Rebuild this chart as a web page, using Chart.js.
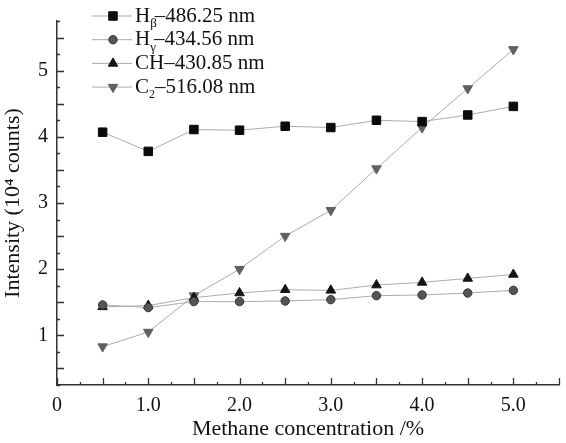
<!DOCTYPE html>
<html>
<head>
<meta charset="utf-8">
<script src="https://cdn.jsdelivr.net/npm/chart.js@4.4.1/dist/chart.umd.min.js"></script>
<style>
  html, body { margin: 0; padding: 0; background: #fff; }
  #wrap { width: 566px; height: 443px; }
</style>
</head>
<body>
<div id="wrap"><canvas id="chart" width="566" height="443"></canvas></div>
<script>
/* --------------- Data --------------------- */
const concentration = [0.5, 1.0, 1.5, 2.0, 2.5, 3.0, 3.5, 4.0, 4.5, 5.0];
const hBeta  = [4.07, 3.78, 4.11, 4.10, 4.16, 4.14, 4.25, 4.23, 4.33, 4.46];
const hGamma = [1.46, 1.42, 1.51, 1.51, 1.52, 1.54, 1.60, 1.61, 1.64, 1.68];
const ch     = [1.43, 1.45, 1.57, 1.64, 1.69, 1.68, 1.76, 1.80, 1.86, 1.92];
const c2     = [0.83, 1.05, 1.60, 2.00, 2.50, 2.89, 3.52, 4.14, 4.73, 5.32];
/* legend names: base, subscript, rest */
const seriesNames = [
  ["H", "β", "–486.25 nm"],
  ["H", "γ", "–434.56 nm"],
  ["CH", "", "–430.85 nm"],
  ["C", "2", "–516.08 nm"],
];
const xLabelValues = [0, 1, 2, 3, 4, 5];
const yLabelValues = [1, 2, 3, 4, 5];

const serif = "'Liberation Serif', 'Times New Roman', serif";
const toPoints = (ys) => concentration.map((x, i) => ({ x: x, y: ys[i] }));

/* --------------- Inward ticks (major 0.5 / minor 0.25) --------------------- */
const tickPlugin = {
  id: "inTicks",
  afterDraw(chart) {
    const ctx = chart.ctx;
    const area = chart.chartArea;
    const xs = chart.scales.x, ys = chart.scales.y;
    ctx.save();
    ctx.strokeStyle = "#333";
    ctx.lineWidth = 1.3;
    ctx.beginPath();
    for (let v = xs.min; v <= xs.max + 1e-9; v += 0.25) {
      const px = Math.round(xs.getPixelForValue(v)) + 0.5;
      const len = Math.abs(v * 2 - Math.round(v * 2)) < 1e-6 ? 7 : 3;
      ctx.moveTo(px, area.bottom);
      ctx.lineTo(px, area.bottom - len);
    }
    for (let v = ys.min; v <= ys.max + 1e-9; v += 0.25) {
      const py = Math.round(ys.getPixelForValue(v)) + 0.5;
      const len = Math.abs(v * 2 - Math.round(v * 2)) < 1e-6 ? 7 : 3;
      ctx.moveTo(area.left, py);
      ctx.lineTo(area.left + len, py);
    }
    ctx.stroke();
    ctx.restore();
  },
};

/* --------------- Legend with subscripts --------------------- */
const legendPlugin = {
  id: "subLegend",
  afterDraw(chart) {
    const ctx = chart.ctx;
    const x0 = 92, y0 = 16, rowH = 23.7;
    ctx.save();
    chart.data.datasets.forEach((ds, i) => {
      const y = y0 + i * rowH;
      ctx.strokeStyle = ds.borderColor;
      ctx.lineWidth = 1;
      ctx.beginPath();
      ctx.moveTo(x0, y);
      ctx.lineTo(x0 + 40, y);
      ctx.stroke();
      ctx.fillStyle = ds.pointBackgroundColor;
      ctx.strokeStyle = ds.pointBorderColor;
      Chart.helpers.drawPoint(ctx, {
        pointStyle: ds.pointStyle,
        radius: ds.pointRadius,
        rotation: ds.pointRotation || 0,
        borderWidth: 1,
      }, x0 + 21, y);
      const [base, sub, rest] = seriesNames[i];
      let tx = x0 + 43;
      ctx.fillStyle = "#111";
      ctx.textBaseline = "middle";
      ctx.font = "21px " + serif;
      ctx.fillText(base, tx, y);
      tx += ctx.measureText(base).width;
      if (sub) {
        ctx.font = (sub === "2" ? "12px " : "13px ") + serif;
        ctx.fillText(sub, tx, y + 8);
        if (sub !== "2") tx -= 2;
        tx += ctx.measureText(sub).width;
      }
      ctx.font = "21px " + serif;
      ctx.fillText(rest, tx, y);
    });
    ctx.restore();
  },
};

const lineColor = "#ababab";
new Chart(document.getElementById("chart"), {
  type: "line",
  plugins: [tickPlugin, legendPlugin],
  data: {
    datasets: [
      {
        label: "Hβ–486.25 nm", data: toPoints(hBeta),
        borderColor: lineColor, borderWidth: 1,
        pointStyle: "rect", pointRadius: 6,
        pointBackgroundColor: "#0a0a0a", pointBorderColor: "#0a0a0a",
      },
      {
        label: "Hγ–434.56 nm", data: toPoints(hGamma),
        borderColor: lineColor, borderWidth: 1,
        pointStyle: "circle", pointRadius: 4.2,
        pointBackgroundColor: "#555", pointBorderColor: "#333",
      },
      {
        label: "CH–430.85 nm", data: toPoints(ch),
        borderColor: lineColor, borderWidth: 1,
        pointStyle: "triangle", pointRadius: 5.5,
        pointBackgroundColor: "#151515", pointBorderColor: "#151515",
      },
      {
        label: "C2–516.08 nm", data: toPoints(c2),
        borderColor: lineColor, borderWidth: 1,
        pointStyle: "triangle", pointRotation: 180, pointRadius: 5.5,
        pointBackgroundColor: "#606060", pointBorderColor: "#606060",
      },
    ],
  },
  options: {
    responsive: false,
    animation: false,
    layout: { padding: { top: 10, right: 2, left: 0, bottom: 0 } },
    plugins: { legend: { display: false }, tooltip: { enabled: false } },
    scales: {
      x: {
        type: "linear", min: 0, max: 5.5,
        afterBuildTicks: (s) => { s.ticks = xLabelValues.map((v) => ({ value: v })); },
        afterFit: (s) => { s.height = 58; },
        grid: { display: false, drawTicks: false },
        border: { display: true, color: "#333", width: 1.5 },
        ticks: {
          padding: 9, color: "#111", autoSkip: false, maxRotation: 0,
          font: { family: serif, size: 20 },
          callback: (v) => (v === 0 ? "0" : Number(v).toFixed(1)),
        },
        title: {
          display: true, text: "Methane concentration /%", color: "#111",
          font: { family: serif, size: 22 }, padding: { top: 0, bottom: 1 },
        },
      },
      y: {
        type: "linear", min: 0.25, max: 5.75,
        afterBuildTicks: (s) => { s.ticks = yLabelValues.map((v) => ({ value: v })); },
        afterFit: (s) => { s.width = 57; },
        grid: { display: false, drawTicks: false },
        border: { display: true, color: "#333", width: 1.5 },
        ticks: {
          padding: 9, color: "#111",
          font: { family: serif, size: 20 },
          callback: (v) => String(v),
        },
        title: {
          display: true, text: "Intensity (10⁴ counts)", color: "#111",
          font: { family: serif, size: 22 }, padding: { top: 0, bottom: 0 },
        },
      },
    },
  },
});
</script>
</body>
</html>
